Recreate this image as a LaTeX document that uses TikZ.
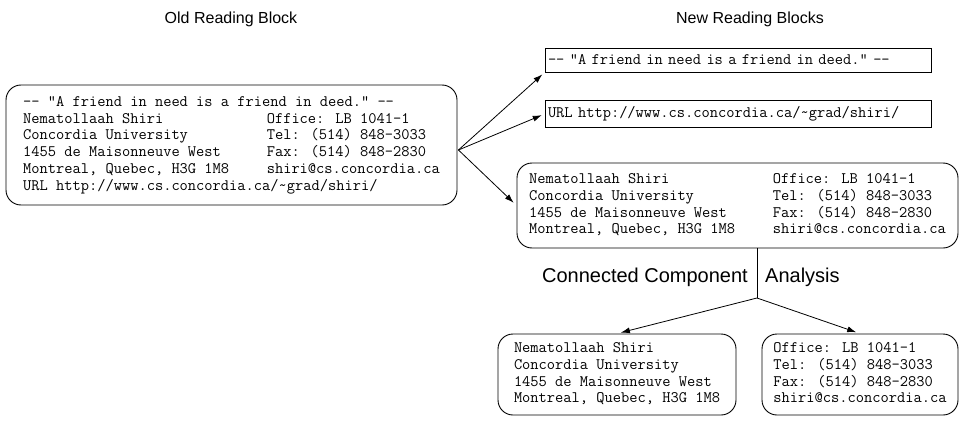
\documentclass[tikz,border=0pt]{standalone}
\usepackage{fontspec}
\newfontfamily\arial{Liberation Sans}
\usetikzlibrary{arrows.meta}
\usetikzlibrary{positioning}
\definecolor{fg}{rgb}{0,0,0}
\newcommand{\cardfont}{\ttfamily\fontsize{16}{16.7}\selectfont}
\tikzstyle{card}=[draw=fg, line width=0.9pt, rounded corners=15pt, inner sep=0pt,
anchor=center, text=fg, font=\cardfont]
\tikzstyle{strip}=[draw=fg, line width=0.9pt, inner xsep=3pt, inner ysep=0pt,
text width=380pt, align=left, anchor=center, text=fg, font=\cardfont]
\tikzstyle{heading}=[text=fg, font=\arial\fontsize{16}{19}\selectfont]
\tikzstyle{steplabel}=[text=fg, font=\arial\fontsize{20}{24}\selectfont, inner sep=0pt]
\tikzstyle{myarrow}=[->, >={Latex[length=9pt,width=6pt]}, line width=0.8pt, draw=fg]

\begin{document}
\begin{tikzpicture}[x=1pt, y=-1pt]

    \useasboundingbox (0,0) rectangle (963,420);

    \node[heading] (oldtitle) at (231,19) {Old Reading Block};
    \node[heading] (newtitle) at (750,19) {New Reading Blocks};

    % old block
    \node[card, minimum width=451pt, minimum height=120pt] (old) at (231.5,145) {%
      \begin{tabular}{@{}p{243.6pt}@{}l@{}}
        \multicolumn{2}{@{}l@{}}{-- "A friend in need is a friend in deed." --}\\
        Nematollaah Shiri & Office: LB 1041-1\\
        Concordia University & Tel: (514) 848-3033\\
        1455 de Maisonneuve West & Fax: (514) 848-2830\\
        Montreal, Quebec, H3G 1M8 & shiri@cs.concordia.ca\\
        \multicolumn{2}{@{}l@{}}{URL http://www.cs.concordia.ca/\string~grad/shiri/}
      \end{tabular}};
    \coordinate (fork) at ([shift={(1,5)}]old.east);

    % new blocks
    \node[strip, minimum height=24pt] (quote) at (738,60)
      {-- "A friend in need is a friend in deed." --};
    \node[strip, minimum height=27pt] (url) at (738,114)
      {URL http://www.cs.concordia.ca/\string~grad/shiri/};

    \node[card, minimum width=441pt, minimum height=85pt] (contact) at (737.5,205.5) {%
      \begin{tabular}{@{}p{243.6pt}@{}l@{}}
        Nematollaah Shiri & Office: LB 1041-1\\
        Concordia University & Tel: (514) 848-3033\\
        1455 de Maisonneuve West & Fax: (514) 848-2830\\
        Montreal, Quebec, H3G 1M8 & shiri@cs.concordia.ca
      \end{tabular}};

    \draw[myarrow, shorten >=3pt] (fork) -- (quote.south west);
    \draw[myarrow, shorten >=3pt] (fork) -- (url.west);
    \draw[myarrow, shorten >=4pt] (fork) -- (contact.west);

    % connected component analysis
    \coordinate (split) at (757,298);
    \draw[fg, line width=0.8pt] (contact.south -| split) -- (split);
    \node[steplabel, anchor=east] (cca1) at (748,277) {Connected Component};
    \node[steplabel, anchor=west] (cca2) at (765,277) {Analysis};

    \node[card, minimum width=238pt, minimum height=81pt] (person) at (617,374.5) {%
      \begin{tabular}{@{}l@{}}
        Nematollaah Shiri\\
        Concordia University\\
        1455 de Maisonneuve West\\
        Montreal, Quebec, H3G 1M8
      \end{tabular}};
    \node[card, minimum width=196pt, minimum height=81pt] (office) at (860,374.5) {%
      \begin{tabular}{@{}l@{}}
        Office: LB 1041-1\\
        Tel: (514) 848-3033\\
        Fax: (514) 848-2830\\
        shiri@cs.concordia.ca
      \end{tabular}};

    \draw[myarrow, shorten >=4pt] (split) -- (person.north);
    \draw[myarrow, shorten >=4pt] (split) -- (office.north);

\end{tikzpicture}
\end{document}
